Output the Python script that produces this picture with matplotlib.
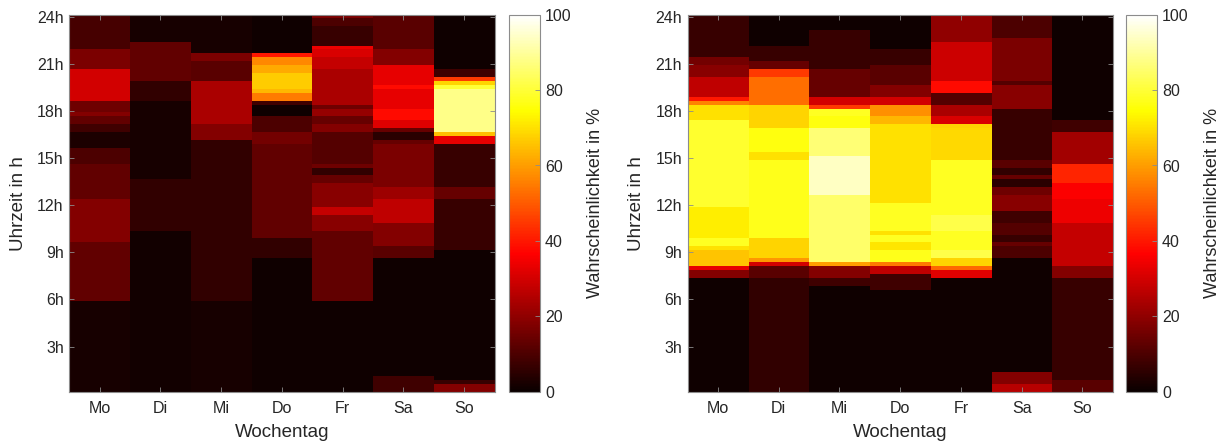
import numpy as np
import matplotlib
matplotlib.use("Agg")
import matplotlib.pyplot as plt

plt.rcParams['font.family'] = ['Liberation Sans', 'DejaVu Sans']

days = ["Mo", "Di", "Mi", "Do", "Fr", "Sa", "So"]
hour_ticks = [3, 6, 9, 12, 15, 18, 21, 24]
hour_labels = [f"{h}h" for h in hour_ticks]
cbar_ticks = [0, 20, 40, 60, 80, 100]

# Occupancy probability (%) per weekday, given as time blocks from 24h downwards:
# each pair is (lower bound of the block in hours, probability in %).
left_mo = [(21.94, 9), (20.67, 17), (18.67, 30), (17.87, 15), (17.66, 18), (17.13, 13),
           (16.7, 8), (15.64, 3), (14.64, 10), (12.35, 13), (9.7, 18), (5.95, 13), (0, 2)]
left_di = [(22.37, 2), (19.88, 13), (18.67, 6), (13.67, 2), (10.4, 6), (0, 1.5)]
left_mi = [(21.73, 2), (21.1, 17), (19.88, 12), (17.13, 24), (16.17, 18), (5.95, 6), (0, 2)]
left_do = [(21.7, 1), (21.3, 40), (20.84, 57), (20.42, 62), (19.46, 67), (19.14, 64),
           (18.67, 55), (18.4, 8), (17.66, 1), (16.7, 10), (15.85, 16), (9.92, 13),
           (8.64, 6), (0, 1)]
left_fr = [(23.85, 17), (23.3, 10), (22.15, 7), (21.8, 34), (21.26, 31), (20.63, 28),
           (18.4, 24), (18.1, 15), (17.66, 21), (17.2, 14), (16.7, 18), (14.64, 11),
           (14.26, 15), (13.84, 6), (13.4, 14), (11.93, 19), (11.4, 28), (10.45, 19),
           (5.95, 13), (0, 1)]
left_sa = [(21.94, 12), (20.88, 18), (19.74, 33), (19.35, 38), (18.08, 33), (17.45, 38),
           (16.85, 32), (16.6, 14), (16.07, 5), (15.76, 14), (13.2, 17), (12.35, 22),
           (10.87, 27), (9.38, 18), (8.64, 12), (1.11, 1), (0, 8)]
left_so = [(20.63, 1), (20.1, 8), (19.9, 45), (19.6, 68), (19.35, 80), (16.6, 88),
           (16.4, 65), (15.96, 33), (13.2, 7), (12.35, 14), (9.17, 7), (0.9, 1),
           (0.5, 7), (0, 18)]

right_mo = [(21.37, 7), (20.95, 16), (20.2, 19), (18.89, 27), (18.5, 40), (18.25, 56),
            (17.45, 70), (11.93, 79), (9.92, 72), (9.38, 78), (9.2, 70), (8.22, 66),
            (8.0, 52), (7.75, 33), (7.26, 18), (0, 1)]
right_di = [(22.15, 1), (21.16, 7), (20.63, 14), (20.1, 45), (18.4, 53), (16.92, 68),
            (15.37, 76), (14.9, 70), (9.92, 77), (8.64, 68), (8.3, 59), (8.1, 30),
            (7.47, 12), (0, 6)]
right_mi = [(23.13, 1), (20.63, 7), (18.83, 14), (18.4, 30), (18.1, 45), (17.62, 78),
            (16.92, 76), (15.11, 86), (12.67, 94), (8.43, 85), (8.1, 60), (7.47, 18),
            (6.84, 8), (0, 1)]
right_do = [(21.94, 1), (20.84, 7), (19.56, 12), (18.76, 18), (18.3, 30), (17.66, 58),
            (17.13, 64), (12.14, 70), (10.45, 78), (10.2, 70), (9.7, 78), (9.17, 71),
            (8.33, 77), (8.1, 55), (7.58, 27), (6.67, 8), (0, 1)]
right_fr = [(22.43, 20), (19.88, 29), (19.14, 38), (18.4, 11), (17.66, 24), (17.13, 31),
            (17.0, 50), (16.85, 68), (14.9, 69), (11.4, 78), (10.34, 82), (9.17, 78),
            (8.64, 82), (8.1, 68), (7.9, 52), (7.47, 32), (0, 1)]
right_sa = [(22.64, 10), (19.88, 17), (19.7, 11), (18.08, 19), (14.9, 7), (14.26, 12),
            (13.84, 6), (13.6, 14), (13.1, 5), (12.7, 15), (11.5, 19), (10.87, 8),
            (10.03, 11), (9.6, 7), (9.3, 14), (8.64, 10), (1.32, 1), (0.7, 18), (0, 26)]
right_so = [(17.45, 1), (16.7, 8), (14.58, 23), (13.4, 42), (12.35, 36), (11.19, 34),
            (11.0, 55), (10.8, 34), (8.11, 28), (7.47, 18), (0.9, 7), (0, 12)]

left_week = [left_mo, left_di, left_mi, left_do, left_fr, left_sa, left_so]
right_week = [right_mo, right_di, right_mi, right_do, right_fr, right_sa, right_so]

# 15-minute resolution, bin centres at 0.25h ... 24h
centres = np.arange(1, 97) * 0.25


def to_grid(week):
    grid = np.zeros((len(centres), len(week)))
    for j, blocks in enumerate(week):
        for i, c in enumerate(centres):
            for lower, val in blocks:
                if c > lower:
                    grid[i, j] = val
                    break
    return grid


W, H = 1223, 448
fig = plt.figure(figsize=(W / 100, H / 100), dpi=100)

text_col = "#262626"
frame_col = "#8c8c8c"


def panel(ax_rect, cb_rect, week):
    ax = fig.add_axes(ax_rect)
    grid = to_grid(week)
    im = ax.imshow(grid, cmap="hot", vmin=0, vmax=100, origin="lower",
                   aspect="auto", interpolation="nearest",
                   extent=(0.5, 7.5, 0.125, 24.125))
    ax.set_xlim(0.5, 7.5)
    ax.set_ylim(0.125, 24.125)
    ax.set_xticks(range(1, 8))
    ax.set_xticklabels(days)
    ax.set_yticks(hour_ticks)
    ax.set_yticklabels(hour_labels)
    ax.tick_params(direction="in", length=3.5, width=0.6, color=frame_col,
                   labelcolor=text_col, labelsize=11.5, top=True, right=True)
    ax.tick_params(axis="x", pad=7)
    ax.tick_params(axis="y", pad=4)
    for s in ax.spines.values():
        s.set_color(frame_col)
        s.set_linewidth(0.8)
    ax.set_xlabel("Wochentag", fontsize=13.5, color=text_col)
    ax.set_ylabel("Uhrzeit in h", fontsize=13.5, color=text_col)
    ax.xaxis.set_label_coords(0.5, -0.085)
    ax.yaxis.set_label_coords(-0.1, 0.5)

    cax = fig.add_axes(cb_rect)
    cb = fig.colorbar(im, cax=cax, ticks=cbar_ticks)
    cb.outline.set_edgecolor(frame_col)
    cb.outline.set_linewidth(0.8)
    cax.tick_params(direction="in", length=3.5, width=0.6, color=frame_col,
                    labelcolor=text_col, labelsize=11.5, pad=4)
    cb.set_label("Wahrscheinlichkeit in %", fontsize=13, color=text_col, labelpad=11)
    return ax


bottom = 1 - 391.7 / H
height = (391.7 - 14.7) / H
panel([69.3 / W, bottom, 425.3 / W, height], [509 / W, bottom, 30.5 / W, height], left_week)
panel([687.7 / W, bottom, 425.0 / W, height], [1126 / W, bottom, 30.5 / W, height], right_week)

fig.savefig("out.png", dpi=100)
